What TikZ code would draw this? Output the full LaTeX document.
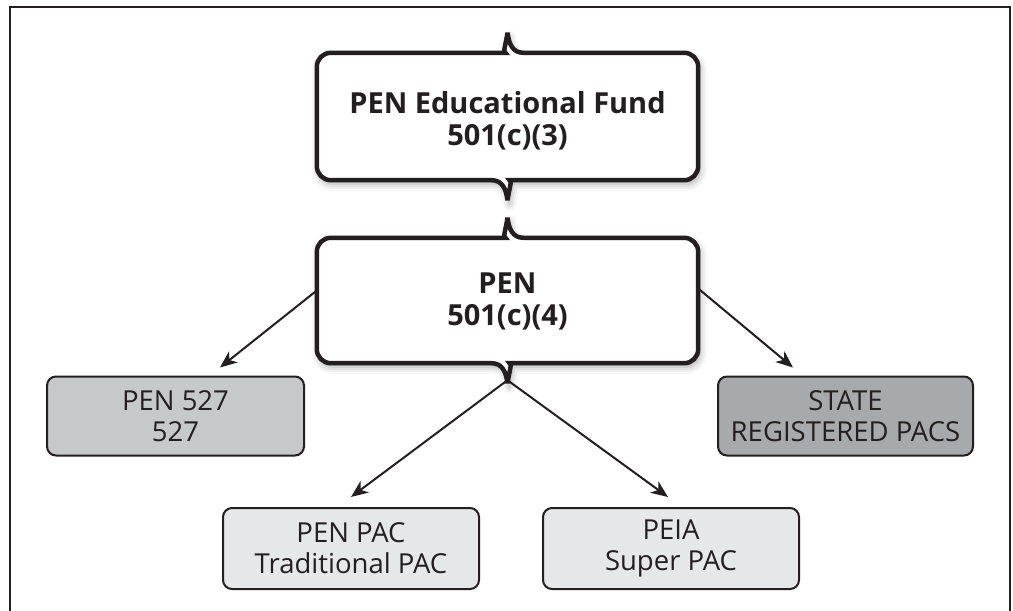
\documentclass[tikz,border=0pt]{standalone}
\usepackage{fontspec}
\setmainfont{Open Sans}
\usetikzlibrary{arrows.meta,shadows.blur,calc}
\definecolor{ink}{HTML}{231F20}
\definecolor{midgray}{HTML}{C7C8CA}
\definecolor{darkgray}{HTML}{A7A9AC}
\definecolor{lightgray}{HTML}{E6E7E8}
\begin{document}
\begin{tikzpicture}[x=1pt,y=-1pt,
  frame/.style={draw=ink,line width=2.6pt},
  bigtext/.style={inner sep=0pt,align=center,text=ink,
    font=\fontsize{29}{32}\selectfont\bfseries},
  bigline/.style={draw=ink,fill=white,line width=4.5pt,miter limit=6,
    blur shadow={shadow xshift=2pt,shadow yshift=-4pt,shadow blur radius=7pt,shadow opacity=35}},
  smallbox/.style={draw=ink,line width=2pt,rounded corners=9pt,align=center,
    text=ink,inner sep=0pt,font=\fontsize{27.5}{31}\selectfont},
  arr/.style={draw=ink,line width=2pt,-{Stealth[length=17pt,width=14pt,inset=5pt]}}
]
\useasboundingbox (0,0) rectangle (1013,611);

% outer frame, open at the bottom
\draw[frame] (10,611) -- (10,7) -- (1010,7) -- (1010,611);

% the two main organisations: empty nodes give the box geometry
\node[bigtext,minimum width=381pt,minimum height=127pt] (fund) at (507.5,116.5) {};
\node[bigtext,minimum width=381pt,minimum height=125pt] (pen) at (507.5,300.5) {};

% brace-shaped outlines with a cusp at the middle of top and bottom edges
\foreach \b in {fund,pen}{
  \path[bigline]
    ([yshift=20pt]\b.north)
      .. controls ([xshift=1.5pt,yshift=9pt]\b.north) and ([xshift=5pt]\b.north) .. ([xshift=16pt]\b.north)
      [rounded corners=14pt] -- (\b.north east) -- (\b.south east) -- ([xshift=16pt]\b.south) [sharp corners]
      .. controls ([xshift=5pt]\b.south) and ([xshift=1.5pt,yshift=-9pt]\b.south) .. ([yshift=-20pt]\b.south)
      .. controls ([xshift=-1.5pt,yshift=-9pt]\b.south) and ([xshift=-5pt]\b.south) .. ([xshift=-16pt]\b.south)
      [rounded corners=14pt] -- (\b.south west) -- (\b.north west) -- ([xshift=-16pt]\b.north) [sharp corners]
      .. controls ([xshift=-5pt]\b.north) and ([xshift=-1.5pt,yshift=9pt]\b.north) .. cycle;
}
\node[bigtext] (fundtxt) at ([yshift=-4pt]fund.center) {PEN Educational Fund\\501(c)(3)};
\node[bigtext] (pentxt) at ([yshift=-1pt]pen.center) {PEN\\501(c)(4)};
\coordinate (penfoot) at ([yshift=-17pt]pen.south);

% affiliated committees
\node[smallbox,fill=midgray,minimum width=257pt,minimum height=79pt] (p527) at (175.5,416) {PEN 527\\527};
\node[smallbox,fill=darkgray,minimum width=255pt,minimum height=79pt] (state) at (845.5,416) {STATE\\REGISTERED PACS};
\node[smallbox,fill=lightgray,minimum width=256pt,minimum height=81pt] (pac) at (351,548.5) {PEN PAC\\Traditional PAC};
\node[smallbox,fill=lightgray,minimum width=256pt,minimum height=81pt] (peia) at (671,548.5) {PEIA\\Super PAC};

% connectors
\draw[arr] ([yshift=10pt]pen.west) -- ([xshift=44.5pt,yshift=8pt]p527.north);
\draw[arr] ([yshift=12pt]pen.east) -- ([xshift=-52.5pt,yshift=8pt]state.north);
\draw[arr] (penfoot) -- ([yshift=10pt]pac.north);
\draw[arr] (penfoot) -- ([xshift=-3pt,yshift=10pt]peia.north);
\end{tikzpicture}
\end{document}
